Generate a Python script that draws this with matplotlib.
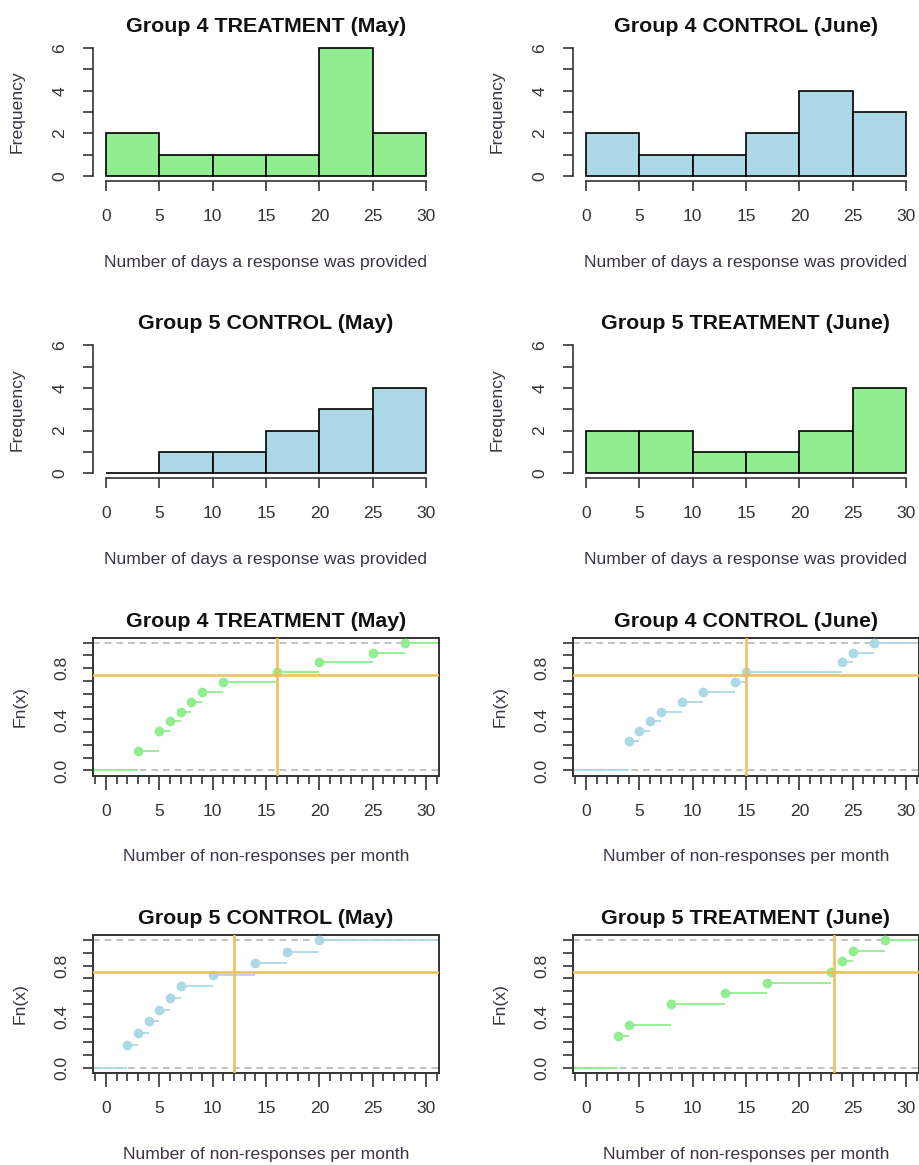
import numpy as np
import matplotlib
matplotlib.use("Agg")
import matplotlib.pyplot as plt

plt.rcParams['font.family'] = ['Liberation Sans', 'DejaVu Sans']

# ---------------- data ----------------
bin_edges = [0, 5, 10, 15, 20, 25, 30]
hist_xticks = [0, 5, 10, 15, 20, 25, 30]
freq_ticks = [0, 1, 2, 3, 4, 5, 6]
freq_labels = ['0', '', '2', '', '4', '', '6']

g4_treat_may_counts = [2, 1, 1, 1, 6, 2]
g4_ctrl_june_counts = [2, 1, 1, 2, 4, 3]
g5_ctrl_may_counts = [0, 1, 1, 2, 3, 4]
g5_treat_june_counts = [2, 2, 1, 1, 2, 4]

g4_treat_may_nonresp = [3, 3, 5, 5, 6, 7, 8, 9, 11, 16, 20, 25, 28]
g4_ctrl_june_nonresp = [4, 4, 4, 5, 6, 7, 9, 11, 14, 15, 24, 25, 27]
g5_ctrl_may_nonresp = [2, 2, 3, 4, 5, 6, 7, 10, 14, 17, 20]
g5_treat_june_nonresp = [3, 3, 3, 4, 8, 8, 13, 17, 23, 24, 25, 28]

ecdf_major_x = [0, 5, 10, 15, 20, 25, 30]
ecdf_minor_x = list(range(-1, 32))
ecdf_yticks = [0.0, 0.1, 0.2, 0.3, 0.4, 0.5, 0.6, 0.7, 0.8, 0.9, 1.0]
ecdf_ylabels = ['0.0', '', '', '', '0.4', '', '', '', '0.8', '', '']
quantile_level = 0.75

titles = [
    "Group 4 TREATMENT (May)", "Group 4 CONTROL (June)",
    "Group 5 CONTROL (May)", "Group 5 TREATMENT (June)",
]
hist_xlabel = "Number of days a response was provided"
ecdf_xlabel = "Number of non-responses per month"

GREEN = '#90EE90'
BLUE = '#ADD8E6'
ORANGE = '#F1BE55'
LABEL_COL = '#3C3344'
TICK_COL = '#333333'

# ---------------- layout ----------------
W, H = 920, 1165
fig = plt.figure(figsize=(W / 100, H / 100), dpi=100)

AX_W, AX_H = 345.6, 138.0
LEFTS = [93.2, 573.2]
ROW_STEP = 297.3
TOP0 = 43.0


def px(x, y):
    return x / W, 1 - y / H


def make_ax(col, row):
    left = LEFTS[col]
    top = TOP0 + row * ROW_STEP
    ax = fig.add_axes([left / W, 1 - (top + AX_H) / H, AX_W / W, AX_H / H])
    return ax, left, top


def decorate(left, top, title, xlabel, ylabel, ylab_off):
    cx = left + AX_W / 2
    fig.text(*px(cx, top - 11), title, ha='center', va='baseline',
             fontsize=15.4, fontweight='bold', color='#111111')
    fig.text(*px(cx, top + AX_H + 85.7), xlabel, ha='center', va='baseline',
             fontsize=12.6, color=LABEL_COL)
    fig.text(*px(left - ylab_off, top + AX_H / 2), ylabel, ha='center',
             va='center', rotation=90, fontsize=12.6, color=LABEL_COL)


def style_yticklabels(ax):
    for lab in ax.get_yticklabels():
        lab.set_rotation(90)
        lab.set_va('center')
        lab.set_ha('right')


def draw_hist(col, row, counts, color, title):
    ax, left, top = make_ax(col, row)
    ax.bar(bin_edges[:-1], counts, width=np.diff(bin_edges), align='edge',
           color=color, edgecolor='black', linewidth=1.2)
    ax.set_xlim(-1.2, 31.2)
    ax.set_ylim(-0.24, 6.24)
    for s in ['top', 'right']:
        ax.spines[s].set_visible(False)
    ax.spines['left'].set_bounds(0, 6)
    ax.spines['bottom'].set_bounds(0, 30)
    for s in ['left', 'bottom']:
        ax.spines[s].set_linewidth(1.2)
        ax.spines[s].set_color(TICK_COL)
    ax.set_xticks(hist_xticks)
    ax.set_xticklabels([str(v) for v in hist_xticks])
    ax.set_yticks(freq_ticks)
    ax.set_yticklabels(freq_labels)
    ax.tick_params(axis='both', direction='out', length=7, width=1.2,
                   color=TICK_COL, labelcolor=TICK_COL, labelsize=12.6)
    ax.tick_params(axis='x', pad=13.0)
    ax.tick_params(axis='y', pad=11.5)
    style_yticklabels(ax)
    decorate(left, top, title, hist_xlabel, "Frequency", 76)
    return ax


def draw_ecdf(col, row, data, color, title):
    ax, left, top = make_ax(col, row)
    xlo, xhi = -1.2, 31.2
    ax.set_xlim(xlo, xhi)
    ax.set_ylim(-0.04, 1.04)
    x = np.sort(np.asarray(data, dtype=float))
    knots = np.unique(x)
    F = np.searchsorted(x, knots, side='right') / len(x)
    ax.axhline(0, ls=(0, (4, 3)), color='#B8B8B8', lw=1.2, zorder=1)
    ax.axhline(1, ls=(0, (4, 3)), color='#B8B8B8', lw=1.2, zorder=1)
    starts = np.concatenate([[xlo], knots])
    ends = np.concatenate([knots, [xhi]])
    levels = np.concatenate([[0.0], F])
    ax.hlines(levels, starts, ends, color=color, lw=1.3, zorder=2)
    ax.plot(knots, F, 'o', color=color, ms=6.0, mec=color, zorder=3)
    q = np.quantile(x, quantile_level)
    ax.axhline(quantile_level, color=ORANGE, lw=1.8, zorder=4)
    ax.axvline(q, color=ORANGE, lw=1.8, zorder=4)
    for s in ax.spines.values():
        s.set_linewidth(1.4)
        s.set_color(TICK_COL)
    ax.set_xticks(ecdf_major_x)
    ax.set_xticklabels([str(v) for v in ecdf_major_x])
    ax.set_xticks(ecdf_minor_x, minor=True)
    ax.set_yticks(ecdf_yticks)
    ax.set_yticklabels(ecdf_ylabels)
    ax.tick_params(axis='both', which='both', direction='out', width=1.2,
                   color=TICK_COL, labelcolor=TICK_COL, labelsize=12.6)
    ax.tick_params(axis='x', which='major', length=10, pad=10.5)
    ax.tick_params(axis='x', which='minor', length=6)
    ax.tick_params(axis='y', which='major', length=7, pad=10.5)
    style_yticklabels(ax)
    decorate(left, top, title, ecdf_xlabel, "Fn(x)", 73)
    return ax


draw_hist(0, 0, g4_treat_may_counts, GREEN, titles[0])
draw_hist(1, 0, g4_ctrl_june_counts, BLUE, titles[1])
draw_hist(0, 1, g5_ctrl_may_counts, BLUE, titles[2])
draw_hist(1, 1, g5_treat_june_counts, GREEN, titles[3])

draw_ecdf(0, 2, g4_treat_may_nonresp, GREEN, titles[0])
draw_ecdf(1, 2, g4_ctrl_june_nonresp, BLUE, titles[1])
draw_ecdf(0, 3, g5_ctrl_may_nonresp, BLUE, titles[2])
draw_ecdf(1, 3, g5_treat_june_nonresp, GREEN, titles[3])

fig.savefig("out.png", dpi=100, facecolor='white')
